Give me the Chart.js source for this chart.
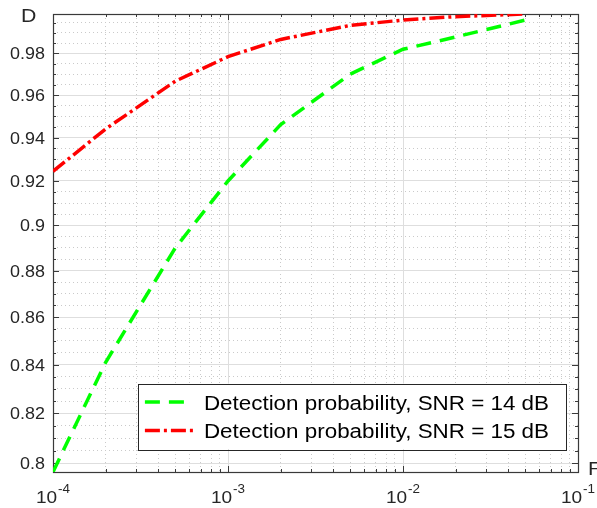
<!DOCTYPE html>
<html>
<head>
<meta charset="utf-8">
<script src="https://cdn.jsdelivr.net/npm/chart.js@4.4.1/dist/chart.umd.min.js"></script>
<style>
  html, body { margin: 0; padding: 0; background: #fff; }
</style>
</head>
<body>
<canvas id="myChart" width="597" height="508"></canvas>
<script>
// probabilidad de falsa alarma (eje x, logaritmico)
const falsaAlarma = [1e-4, 2e-4, 5e-4, 1e-3, 2e-3, 5e-3, 1e-2, 2e-2, 5e-2];
// probabilidad de deteccion para cada SNR
const pd14 = [0.7965, 0.841, 0.890, 0.920, 0.946, 0.970, 0.982, 0.988, 0.9963];
const pd15 = [0.9244, 0.944, 0.9666, 0.9784, 0.9868, 0.9937, 0.9963, 0.9980, 0.9993];

const etiquetas = ["Detection probability, SNR = 14 dB", "Detection probability, SNR = 15 dB"];

// marcas de los ejes
const ticksX = [1e-4, 1e-3, 1e-2, 1e-1];
const ticksXExp = ["-4", "-3", "-2", "-1"];
const ticksY = [0.8, 0.82, 0.84, 0.86, 0.88, 0.9, 0.92, 0.94, 0.96, 0.98];
const ticksYTexto = ["0.8", "0.82", "0.84", "0.86", "0.88", "0.9", "0.92", "0.94", "0.96", "0.98"];
const limitesX = [1e-4, 1e-1];
const limitesY = [0.7965, 0.9993];

// marcas menores: 2..9 por decada en x, cada 0.005 en y
const menoresX = [];
for (let d = 0; d < 3; d++) {
  for (let m = 2; m <= 9; m++) menoresX.push(Number((m * ticksX[d]).toPrecision(3)));
}
const menoresY = [];
for (let k = 0; k < 40; k++) {
  const v = Number((0.8 + k * 0.005).toFixed(3));
  if (!ticksY.some((t) => Math.abs(t - v) < 1e-6)) menoresY.push(v);
}

const FUENTE = '"Liberation Sans", Arial, Helvetica, sans-serif';
const ESTIRA = 1.12;
const colorTexto = "#262626";

// texto un poco mas ancho, como en la figura original
function texto(ctx, str, x, y, size, align) {
  ctx.save();
  ctx.font = size + "px " + FUENTE;
  const w = ctx.measureText(str).width * ESTIRA;
  let x0 = x;
  if (align === "right") x0 = x - w;
  if (align === "center") x0 = x - w / 2;
  ctx.translate(x0, y);
  ctx.scale(ESTIRA, 1);
  ctx.textAlign = "left";
  ctx.textBaseline = "alphabetic";
  ctx.fillText(str, 0, 0);
  ctx.restore();
  return w;
}
function anchoTexto(ctx, str, size) {
  ctx.save();
  ctx.font = size + "px " + FUENTE;
  const w = ctx.measureText(str).width * ESTIRA;
  ctx.restore();
  return w;
}

function armarTicks(mayores, menores) {
  return mayores.map((v) => ({ value: v, major: true }))
    .concat(menores.map((v) => ({ value: v, major: false })))
    .sort((a, b) => a.value - b.value);
}

const colorGrilla = (c) => (c.tick && c.tick.major ? "#dedede" : "#cacaca");
const trazoGrilla = (c) => (c.tick && c.tick.major ? [] : [1, 3]);

// caja, marcas hacia adentro
const ejesCaja = {
  id: "ejesCaja",
  beforeDatasetsDraw(chart) {
    const ctx = chart.ctx;
    const a = chart.chartArea;
    const sx = chart.scales.x;
    const sy = chart.scales.y;
    ctx.save();
    ctx.strokeStyle = "#3a3a3a";
    ctx.lineWidth = 1;
    ctx.beginPath();
    for (const t of sx.ticks) {
      const px = Math.round(sx.getPixelForValue(t.value)) + 0.5;
      const l = t.major ? 6 : 3;
      ctx.moveTo(px, a.bottom); ctx.lineTo(px, a.bottom - l);
      ctx.moveTo(px, a.top); ctx.lineTo(px, a.top + l);
    }
    for (const t of sy.ticks) {
      const py = Math.round(sy.getPixelForValue(t.value)) + 0.5;
      const l = t.major ? 6 : 3;
      ctx.moveTo(a.left, py); ctx.lineTo(a.left + l, py);
      ctx.moveTo(a.right, py); ctx.lineTo(a.right - l, py);
    }
    ctx.stroke();
    ctx.lineWidth = 1.2;
    ctx.strokeRect(Math.round(a.left) + 0.5, Math.round(a.top) + 0.5,
      Math.round(a.right - a.left), Math.round(a.bottom - a.top));
    ctx.restore();
  },
  afterDatasetsDraw(chart) {
    const ctx = chart.ctx;
    const a = chart.chartArea;
    const sx = chart.scales.x;
    const sy = chart.scales.y;
    ctx.save();
    ctx.fillStyle = colorTexto;

    // etiquetas del eje y
    ticksY.forEach((v, i) => {
      texto(ctx, ticksYTexto[i], a.left - 8, sy.getPixelForValue(v) + 6, 16, "right");
    });

    // etiquetas del eje x: 10 con exponente
    ticksX.forEach((v, i) => {
      const px = sx.getPixelForValue(v);
      const wBase = anchoTexto(ctx, "10", 17);
      const wExp = anchoTexto(ctx, ticksXExp[i], 12);
      const x0 = px - (wBase + wExp + 1) / 2;
      texto(ctx, "10", x0, 503, 17, "left");
      texto(ctx, ticksXExp[i], x0 + wBase + 1, 493, 12, "left");
    });

    // nombres de los ejes
    texto(ctx, "D", 21, 22, 19, "left");
    texto(ctx, "F", 588, 475, 19, "left");

    // leyenda
    const tam = 20;
    const anchos = chart.data.datasets.map((d) => anchoTexto(ctx, d.label, tam));
    const ancho = 66 + Math.max(...anchos) + 17;
    const der = a.right - 12;
    const abajo = a.bottom - 23;
    const alto = 65.5;
    const izq = der - ancho;
    const arriba = abajo - alto;
    ctx.fillStyle = "#fff";
    ctx.fillRect(izq, arriba, ancho, alto);
    ctx.strokeStyle = "#262626";
    ctx.lineWidth = 1;
    ctx.strokeRect(Math.round(izq) + 0.5, Math.round(arriba) + 0.5, Math.round(ancho), Math.round(alto));
    chart.data.datasets.forEach((d, i) => {
      const yc = arriba + 18.5 + i * 28.4;
      ctx.save();
      ctx.strokeStyle = d.borderColor;
      ctx.lineWidth = d.borderWidth;
      ctx.setLineDash(d.borderDash);
      ctx.beginPath();
      ctx.moveTo(izq + 7, yc);
      ctx.lineTo(izq + 55, yc);
      ctx.stroke();
      ctx.restore();
      ctx.fillStyle = "#000";
      texto(ctx, d.label, izq + 66, yc + 7.5, tam, "left");
    });
    ctx.restore();
  }
};

const config = {
  type: "line",
  data: {
    datasets: [
      {
        label: etiquetas[0],
        data: falsaAlarma.map((x, i) => ({ x, y: pd14[i] })),
        borderColor: "#00ff00",
        borderWidth: 3.5,
        borderDash: [15, 9],
        pointRadius: 0,
        tension: 0,
        fill: false
      },
      {
        label: etiquetas[1],
        data: falsaAlarma.map((x, i) => ({ x, y: pd15[i] })),
        borderColor: "#ff0000",
        borderWidth: 3.5,
        borderDash: [15, 4, 3, 4],
        pointRadius: 0,
        tension: 0,
        fill: false
      }
    ]
  },
  options: {
    responsive: false,
    animation: false,
    devicePixelRatio: 1,
    layout: { padding: { left: 53, right: 19, top: 14, bottom: 36 } },
    plugins: { legend: { display: false }, tooltip: { enabled: false } },
    scales: {
      x: {
        type: "logarithmic",
        bounds: "data",
        min: limitesX[0],
        max: limitesX[1],
        afterBuildTicks: (eje) => { eje.ticks = armarTicks(ticksX, menoresX); },
        afterFit: (eje) => { eje.height = 0; },
        ticks: { display: false, autoSkip: false, callback: () => "" },
        grid: { color: colorGrilla, drawTicks: false, lineWidth: 1 },
        border: { display: false, dash: trazoGrilla }
      },
      y: {
        type: "logarithmic",
        bounds: "data",
        min: limitesY[0],
        max: limitesY[1],
        afterBuildTicks: (eje) => { eje.ticks = armarTicks(ticksY, menoresY); },
        afterFit: (eje) => { eje.width = 0; },
        ticks: { display: false, autoSkip: false, callback: () => "" },
        grid: { color: colorGrilla, drawTicks: false, lineWidth: 1 },
        border: { display: false, dash: trazoGrilla }
      }
    }
  },
  plugins: [ejesCaja]
};

new Chart(document.getElementById("myChart"), config);
</script>
</body>
</html>
